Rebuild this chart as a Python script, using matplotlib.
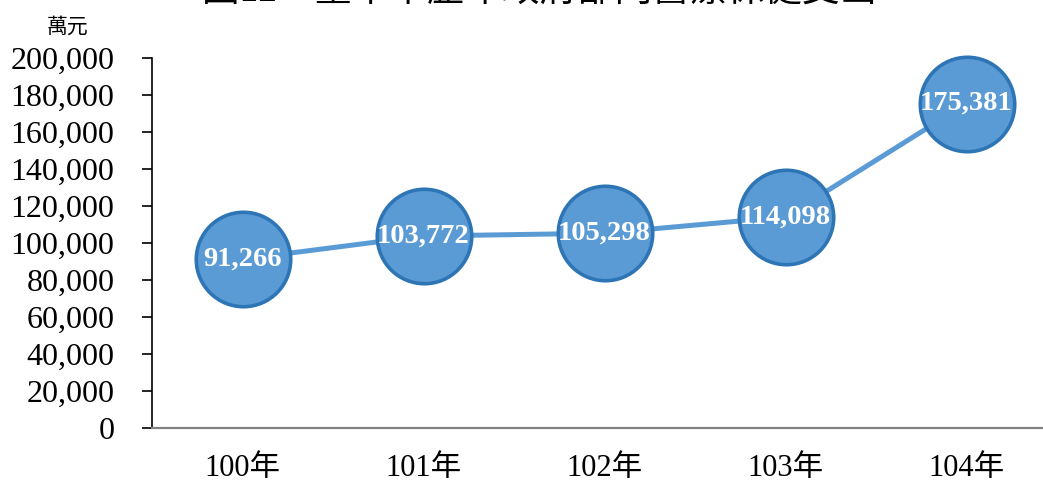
import matplotlib.pyplot as plt
import matplotlib.ticker as mticker

# 臺中市歷年政府部門醫療保健支出 (萬元)
years = ['100年', '101年', '102年', '103年', '104年']
spending = [91266, 103772, 105298, 114098, 175381]

serif_cjk = ['Liberation Serif', 'Noto Sans CJK TC', 'DejaVu Sans']

fig = plt.figure(figsize=(10.43, 4.83), dpi=100)
ax = fig.add_axes([152 / 1043, 55 / 483, 905 / 1043, 370 / 483])

x = list(range(len(years)))
ax.plot(x, spending, color='#5B9BD5', lw=3.6, zorder=2)
ax.plot(x, spending, 'o', ms=68, mfc='#5B9BD5', mec='#2E75B6', mew=2.6,
        zorder=3, clip_on=False)

for xi, v in zip(x, spending):
    ax.text(xi, v, f'{v:,}', ha='center', va='center', color='white',
            fontsize=20.5, fontweight='bold', family='Liberation Serif', zorder=4)

ax.set_xlim(-0.5, 4.5)
ax.set_ylim(0, 200000)
ax.set_yticks(range(0, 200001, 20000))
ax.yaxis.set_major_formatter(mticker.FuncFormatter(lambda v, p: f'{int(v):,}'))
ax.set_xticks(x)
ax.set_xticklabels(years)

for lab in ax.get_yticklabels():
    lab.set_family('Liberation Serif')
    lab.set_fontsize(23)
for lab in ax.get_xticklabels():
    lab.set_family(serif_cjk)
    lab.set_fontsize(22)

ax.tick_params(axis='y', length=7, width=1.2, direction='out', pad=20)
ax.tick_params(axis='x', length=0, pad=19)

ax.spines['top'].set_visible(False)
ax.spines['right'].set_visible(False)
ax.spines['left'].set_linewidth(1.2)
ax.spines['bottom'].set_color('#808080')
ax.spines['bottom'].set_linewidth(1.6)

fig.text(68 / 1043, 1 - 28 / 483, '萬元', ha='center', va='center',
         fontsize=15, family=serif_cjk)
fig.text(540 / 1043, 1 - 9 / 483, '圖12　臺中市歷年政府部門醫療保健支出',
         ha='center', va='bottom', fontsize=27, family=serif_cjk)

fig.savefig('out.png', dpi=100)
